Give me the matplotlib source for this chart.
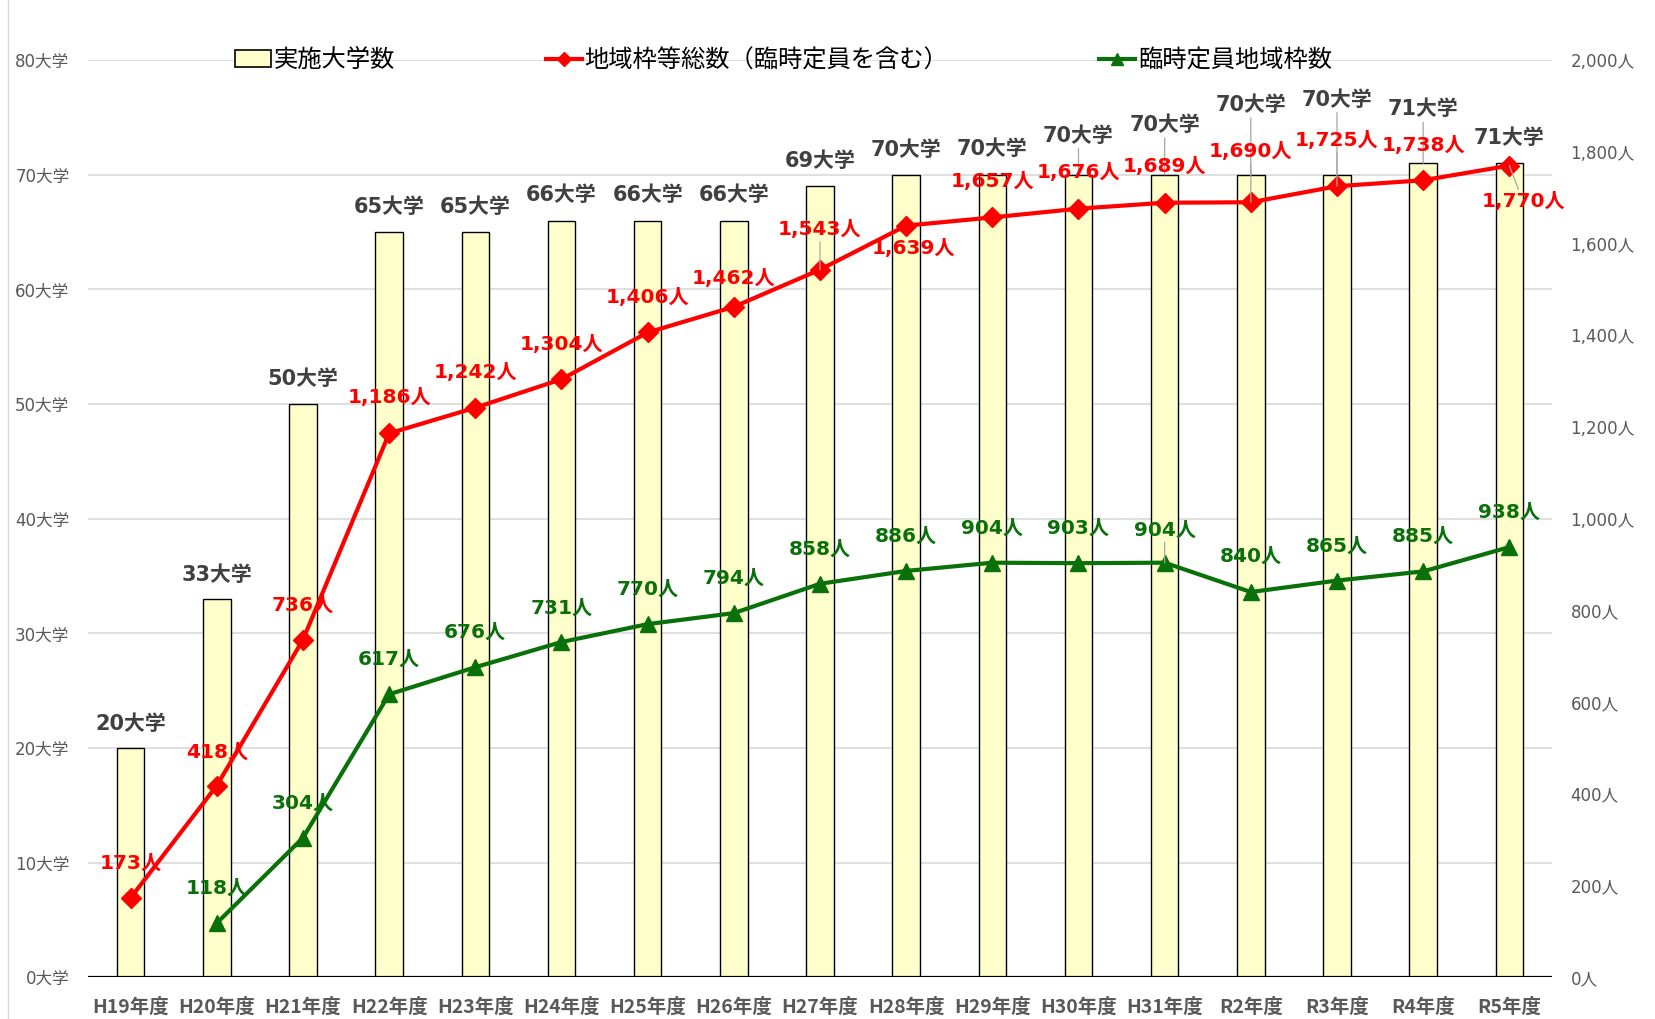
import matplotlib
matplotlib.use("Agg")
import matplotlib.pyplot as plt
from matplotlib.lines import Line2D
from matplotlib.patches import Patch
from matplotlib.ticker import FuncFormatter, MultipleLocator

plt.rcParams["font.family"] = ["Noto Sans CJK JP", "DejaVu Sans"]
NUM_FONT = ["DejaVu Sans", "Noto Sans CJK JP"]

# --- data ---
years = ["H19年度", "H20年度", "H21年度", "H22年度", "H23年度", "H24年度",
         "H25年度", "H26年度", "H27年度", "H28年度", "H29年度", "H30年度",
         "H31年度", "R2年度", "R3年度", "R4年度", "R5年度"]
universities = [20, 33, 50, 65, 65, 66, 66, 66, 69, 70, 70, 70, 70, 70, 70, 71, 71]
quota_total = [173, 418, 736, 1186, 1242, 1304, 1406, 1462, 1543, 1639, 1657,
               1676, 1689, 1690, 1725, 1738, 1770]
quota_temp = [None, 118, 304, 617, 676, 731, 770, 794, 858, 886, 904, 903,
              904, 840, 865, 885, 938]

BAR_FILL = "#FFFFCC"
RED = "#FF0000"
GREEN = "#0A700A"
LABEL_GRAY = "#404040"
TICK_GRAY = "#595959"
LEADER = "#A6A6A6"

# label offsets in reference pixels (dx, dy up), converted to points below
PX = 1.0555 * 72 / 100
bar_dy = [23, 23, 24, 24, 24, 24, 24, 24, 24, 23, 24, 37, 47, 66, 71, 51, 24]
red_off = [(0, 33), (0, 32), (0, 33), (0, 34), (0, 33), (0, 33), (0, 33),
           (0, 27), (0, 38), (7, -22), (0, 34), (0, 34), (0, 34), (0, 48),
           (0, 43), (0, 33), (13, -34)]
red_leader = {8, 13, 14, 16}
green_dy = [0, 33, 33, 33, 33, 32, 33, 33, 33, 33, 33, 33, 31, 34, 33, 33, 33]
green_leader = {12}

fig = plt.figure(figsize=(16.55, 10.19), dpi=100)
ax = fig.add_axes([0.0529, 0.041, 0.8851, 0.900])
ax2 = ax.twinx()

x = list(range(len(years)))
ax.bar(x, universities, width=0.32, color=BAR_FILL, edgecolor="black",
       linewidth=1.0, zorder=2)
ax.set_xlim(-0.5, len(years) - 0.5)
ax.set_ylim(0, 80)
ax.yaxis.set_major_locator(MultipleLocator(10))
ax.yaxis.set_major_formatter(FuncFormatter(lambda v, p: f"{int(v)}大学"))
ax.grid(axis="y", color="#D9D9D9", linewidth=1.2, zorder=0)
ax.set_axisbelow(True)

for a in (ax, ax2):
    for s in ("top", "left", "right", "bottom"):
        a.spines[s].set_visible(False)
ax.axhline(0, color="black", linewidth=1.6, zorder=3)

ax.set_xticks(x)
ax.set_xticklabels(years, fontsize=14, fontweight="bold", color=TICK_GRAY)
ax.tick_params(axis="x", length=0, pad=15)
ax.tick_params(axis="y", length=0, pad=13, labelcolor=TICK_GRAY)
for t in ax.get_yticklabels():
    t.set_fontfamily(NUM_FONT)
    t.set_fontsize(12)

ax2.set_ylim(0, 2000)
ax2.yaxis.set_major_locator(MultipleLocator(200))
ax2.yaxis.set_major_formatter(FuncFormatter(lambda v, p: f"{int(v):,}人"))
ax2.tick_params(axis="y", length=0, pad=13, labelcolor=TICK_GRAY)
for t in ax2.get_yticklabels():
    t.set_fontfamily(NUM_FONT)
    t.set_fontsize(12)

ax2.plot(x, quota_total, color=RED, linewidth=3, marker="D", markersize=10,
         zorder=4)
gx = [i for i, v in zip(x, quota_temp) if v is not None]
gv = [v for v in quota_temp if v is not None]
ax2.plot(gx, gv, color=GREEN, linewidth=3, marker="^", markersize=11,
         zorder=4)


def leader():
    return dict(arrowstyle="-", color=LEADER, lw=0.9, shrinkA=0, shrinkB=0)


for i, v in enumerate(universities):
    kw = {"arrowprops": leader()} if bar_dy[i] > 30 else {}
    ax.annotate(f"{v}大学", (i, v), xytext=(0, bar_dy[i] * PX),
                textcoords="offset points", ha="center", va="center",
                family=NUM_FONT, fontsize=15, fontweight="bold",
                color=LABEL_GRAY, zorder=6, annotation_clip=False, **kw)

for i, v in enumerate(quota_total):
    dx, dy = red_off[i]
    kw = {"arrowprops": leader()} if i in red_leader else {}
    ax2.annotate(f"{v:,}人", (i, v), xytext=(dx * PX, dy * PX),
                 textcoords="offset points", ha="center", va="center",
                 family=NUM_FONT, fontsize=14.5, fontweight="bold",
                 color=RED, zorder=6, **kw)

for i, v in enumerate(quota_temp):
    if v is None:
        continue
    kw = {"arrowprops": leader()} if i in green_leader else {}
    ax2.annotate(f"{v:,}人", (i, v), xytext=(0, green_dy[i] * PX),
                 textcoords="offset points", ha="center", va="center",
                 family=NUM_FONT, fontsize=14.5, fontweight="bold",
                 color=GREEN, zorder=6, **kw)

handles = [
    Patch(facecolor=BAR_FILL, edgecolor="black", linewidth=1.2,
          label="実施大学数"),
    Line2D([0], [0], color=RED, linewidth=3, marker="D", markersize=7,
           label="地域枠等総数（臨時定員を含む）"),
    Line2D([0], [0], color=GREEN, linewidth=3, marker="^", markersize=8,
           label="臨時定員地域枠数"),
]
leg = ax2.legend(handles=handles, loc="center", bbox_to_anchor=(0.475, 1.0),
                 ncol=3, frameon=False, fontsize=17.5, columnspacing=6.2,
                 handlelength=1.5, handletextpad=0.1)
leg.set_zorder(7)

fig.add_artist(Line2D([0.005, 0.005], [0.0, 1.0], color="#D9D9D9",
                      linewidth=1.0, transform=fig.transFigure))

fig.savefig("out.png", dpi=100, facecolor="white")
